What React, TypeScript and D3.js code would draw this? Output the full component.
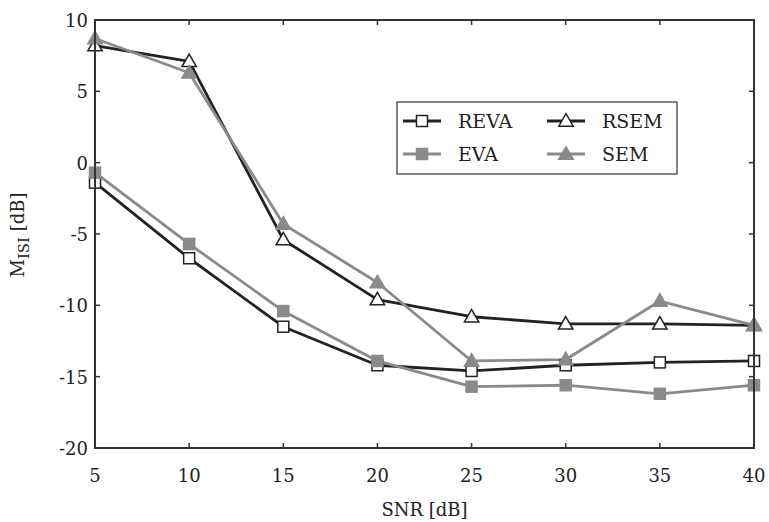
import React from "react";
import * as d3 from "d3";

const W = 769;
const H = 522;

const snr = [5, 10, 15, 20, 25, 30, 35, 40];
const reva = [-1.4, -6.7, -11.5, -14.2, -14.6, -14.2, -14.0, -13.9];
const eva = [-0.7, -5.7, -10.4, -13.9, -15.7, -15.6, -16.2, -15.6];
const rsem = [8.2, 7.1, -5.4, -9.6, -10.8, -11.3, -11.3, -11.4];
const sem = [8.7, 6.3, -4.3, -8.4, -13.9, -13.8, -9.7, -11.4];

const xTicks = [5, 10, 15, 20, 25, 30, 35, 40];
const yTicks = [10, 5, 0, -5, -10, -15, -20];

const BLACK = "#222";
const GRAY = "#8a8a8a";

const series = [
  { name: "REVA", values: reva, color: BLACK, marker: "square", filled: false },
  { name: "EVA", values: eva, color: GRAY, marker: "square", filled: true },
  { name: "RSEM", values: rsem, color: BLACK, marker: "triangle", filled: false },
  { name: "SEM", values: sem, color: GRAY, marker: "triangle", filled: true },
];

const margin = { left: 95, right: W - 754, top: 20, bottom: H - 448 };
const FONT = "'DejaVu Serif', 'Liberation Serif', 'Times New Roman', Times, serif";
const txt = { fontFamily: FONT, fontSize: 18, fill: "#222" };

function Marker({ x, y, kind, filled, color }) {
  const fill = filled ? color : "#fff";
  const stroke = filled ? color : BLACK;
  if (kind === "square") {
    return <rect x={x - 5.5} y={y - 5.5} width={11} height={11} fill={fill} stroke={stroke} strokeWidth={1.5} />;
  }
  const tri = d3.symbol().type(d3.symbolTriangle).size(90)();
  return <path d={tri} transform={`translate(${x},${y + 1})`} fill={fill} stroke={stroke} strokeWidth={1.5} />;
}

export default function App() {
  const x = d3.scaleLinear().domain([5, 40]).range([margin.left, W - margin.right]);
  const y = d3.scaleLinear().domain([-20, 10]).range([H - margin.bottom, margin.top]);
  const line = d3
    .line<number>()
    .x((_, i) => x(snr[i]))
    .y((d) => y(d));

  const x0 = x.range()[0], x1 = x.range()[1];
  const y0 = y.range()[0], y1 = y.range()[1];

  // legend layout
  const lx = 397, ly = 102, lw = 280, lh = 72;
  const cols = [403, 547];
  const rows = [121, 154];

  return (
    <svg width={W} height={H} style={{ position: "absolute", left: 0, top: 0 }}>
      <rect width={W} height={H} fill="#fff" />
      {series.map((s) => (
        <path key={s.name} d={line(s.values) || ""} fill="none" stroke={s.color} strokeWidth={2.8} strokeLinejoin="round" />
      ))}
      {series.map((s) =>
        s.values.map((v, i) => (
          <Marker key={s.name + i} x={x(snr[i])} y={y(v)} kind={s.marker} filled={s.filled} color={s.color} />
        ))
      )}

      {/* frame */}
      <rect x={x0} y={y1} width={x1 - x0} height={y0 - y1} fill="none" stroke="#333" strokeWidth={2} />
      {xTicks.map((t) => (
        <g key={"x" + t}>
          <line x1={x(t)} x2={x(t)} y1={y0} y2={y0 - 5} stroke="#333" strokeWidth={1.5} />
          <line x1={x(t)} x2={x(t)} y1={y1} y2={y1 + 5} stroke="#333" strokeWidth={1.5} />
          <text x={x(t)} y={482} textAnchor="middle" style={txt}>{t}</text>
        </g>
      ))}
      {yTicks.map((t) => (
        <g key={"y" + t}>
          <line x1={x0} x2={x0 + 5} y1={y(t)} y2={y(t)} stroke="#333" strokeWidth={1.5} />
          <line x1={x1} x2={x1 - 5} y1={y(t)} y2={y(t)} stroke="#333" strokeWidth={1.5} />
          <text x={88} y={y(t) + 7} textAnchor="end" style={txt}>{t}</text>
        </g>
      ))}

      <text x={(x0 + x1) / 2} y={516} textAnchor="middle" style={txt}>SNR [dB]</text>
      <text transform="translate(24,235) rotate(-90)" textAnchor="middle" style={txt}>
        M<tspan style={{ fontSize: 15 }} dy={5}>ISI</tspan><tspan dy={-5}> [dB]</tspan>
      </text>

      {/* legend */}
      <rect x={lx} y={ly} width={lw} height={lh} fill="#fff" stroke="#333" strokeWidth={1.2} />
      {[series[0], series[2], series[1], series[3]].map((s, k) => {
        const cx = cols[k % 2];
        const cy = rows[Math.floor(k / 2)];
        return (
          <g key={"l" + s.name}>
            <line x1={cx} x2={cx + 38} y1={cy} y2={cy} stroke={s.color} strokeWidth={2.8} />
            <Marker x={cx + 19} y={cy} kind={s.marker} filled={s.filled} color={s.color} />
            <text x={cx + 55} y={cy + 7} style={{ ...txt, fontSize: 19 }}>{s.name}</text>
          </g>
        );
      })}
    </svg>
  );
}
